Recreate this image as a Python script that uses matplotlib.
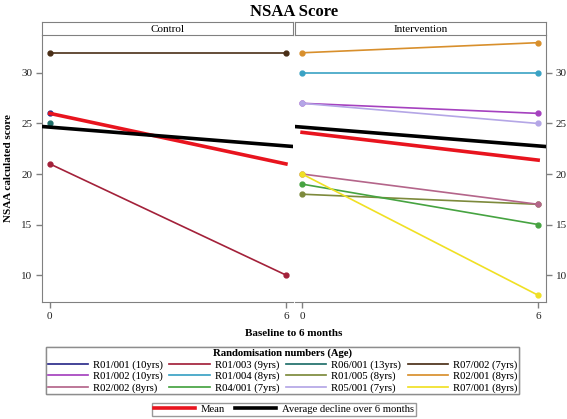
import numpy as np
import matplotlib
matplotlib.use("Agg")
import matplotlib.pyplot as plt
from matplotlib.lines import Line2D

plt.rcParams['font.family'] = ['Liberation Serif', 'DejaVu Serif']

months = [0, 6]

# patient id -> (group, baseline, 6 months); None = missing
ids = ['R01/001 (10yrs)', 'R01/003 (9yrs)', 'R06/001 (13yrs)', 'R07/002 (7yrs)',
       'R01/002 (10yrs)', 'R01/004 (8yrs)', 'R01/005 (8yrs)', 'R02/001 (8yrs)',
       'R02/002 (8yrs)', 'R04/001 (7yrs)', 'R05/001 (7yrs)', 'R07/001 (8yrs)']
groups = ['Control', 'Control', 'Control', 'Control',
          'Intervention', 'Intervention', 'Intervention', 'Intervention',
          'Intervention', 'Intervention', 'Intervention', 'Intervention']
baseline = [26, 21, 25, 32, 27, 30, 18, 32, 20, 19, 27, 20]
month6 = [None, 10, None, 32, 26, 30, 17, 33, 17, 15, 25, 8]
colors = ['#2b2b8a', '#a3213a', '#1f6f6a', '#4a2f17',
          '#a541bf', '#3aa2c4', '#7d8a3c', '#d88f2c',
          '#b4658a', '#46a341', '#b4a6e6', '#f0e024']

mean_ctrl = [26.0, 21.0]
mean_int = [24.125, 21.375]
# average decline line, drawn across each panel
decline_start = 24.64
decline_slope = -0.31

W, H = 567, 419
fig = plt.figure(figsize=(W / 100, H / 100), dpi=100)


def fx(px):
    return px / W


def fy(py):
    return 1 - py / H


panel_x = {'Control': (42, 293), 'Intervention': (295, 546)}
xlims = {'Control': (-0.2, 6.18), 'Intervention': (-0.18, 6.2)}
top, bottom, head = 35, 302, 22
grey = '#808080'

axes = {}
for name, (x0, x1) in panel_x.items():
    ax = fig.add_axes([fx(x0), fy(bottom), fx(x1 - x0), (bottom - top) / H])
    axes[name] = ax
    ax.patch.set_visible(False)
    ax.set_xlim(*xlims[name])
    ax.set_ylim(7.33, 33.76)
    ax.set_xticks(months)
    ax.set_yticks([10, 15, 20, 25, 30])
    for side in ['top', 'left', 'right']:
        ax.spines[side].set_visible(False)
    ax.spines['bottom'].set_color(grey)
    if name == 'Control':
        ax.spines['left'].set_visible(True)
        ax.spines['left'].set_color(grey)
        ax.tick_params(axis='y', left=True, right=False)
    else:
        ax.spines['right'].set_visible(True)
        ax.spines['right'].set_color(grey)
        ax.tick_params(axis='y', left=False, labelleft=False, right=True, labelright=True)
    ax.tick_params(colors=grey, labelcolor='#222222', labelsize=8, length=4, width=1, pad=3)

    # header strip
    hx = fig.add_axes([fx(x0), fy(top), fx(x1 - x0), (top - head) / H])
    hx.set_xticks([])
    hx.set_yticks([])
    for s in hx.spines.values():
        s.set_color(grey)
    hx.text(0.5, 0.45, name, ha='center', va='center', fontsize=8)

handles = {}
for pid, g, b, m, c in zip(ids, groups, baseline, month6, colors):
    ax = axes[g]
    ys = [b, m]
    xs = [x for x, y in zip(months, ys) if y is not None]
    ys = [y for y in ys if y is not None]
    ax.plot(xs, ys, color=c, lw=1.2, marker='o', ms=3.5, zorder=3)
    handles[pid] = Line2D([], [], color=c, lw=1.2)

for name, mean in [('Control', mean_ctrl), ('Intervention', mean_int)]:
    ax = axes[name]
    ax.plot(months, mean, color='#e8141e', lw=2.6, zorder=4)
    xl = np.array(xlims[name])
    ax.plot(xl, decline_start + decline_slope * xl, color='black', lw=2.6, zorder=4)

fig.text(fx(294), fy(12), 'NSAA Score', ha='center', va='center', fontsize=12, fontweight='bold')
fig.text(fx(294), fy(333), 'Baseline to 6 months', ha='center', va='center', fontsize=8, fontweight='bold')
fig.text(fx(9), fy(168), 'NSAA calculated score', ha='center', va='center', rotation=90,
         fontsize=8, fontweight='bold')

# legend in row-major order -> reorder for matplotlib column fill
order = [ids[r * 4 + c] for c in range(4) for r in range(3)]
leg1 = fig.legend([handles[i] for i in order], order, loc='upper center',
                  bbox_to_anchor=(fx(282.5), fy(347)), ncol=4, fontsize=7.7,
                  title='Randomisation numbers (Age)', title_fontproperties={'weight': 'bold', 'size': 7.7},
                  frameon=True, fancybox=False, edgecolor=grey, handlelength=3.8,
                  handletextpad=0.45, columnspacing=0.6, labelspacing=0.18,
                  borderpad=0.12, borderaxespad=0)
leg1.get_frame().set_linewidth(1)

leg2 = fig.legend([Line2D([], [], color='#e8141e', lw=2.6), Line2D([], [], color='black', lw=2.6)],
                  ['Mean', 'Average decline over 6 months'], loc='upper center',
                  bbox_to_anchor=(fx(284), fy(403)), ncol=2, fontsize=7.7,
                  frameon=True, fancybox=False, edgecolor=grey, handlelength=3.8,
                  handletextpad=0.6, columnspacing=0.9, borderpad=0.15, borderaxespad=0)
leg2.get_frame().set_linewidth(1)
fig.add_artist(leg1)

fig.savefig('out.png', dpi=100)
